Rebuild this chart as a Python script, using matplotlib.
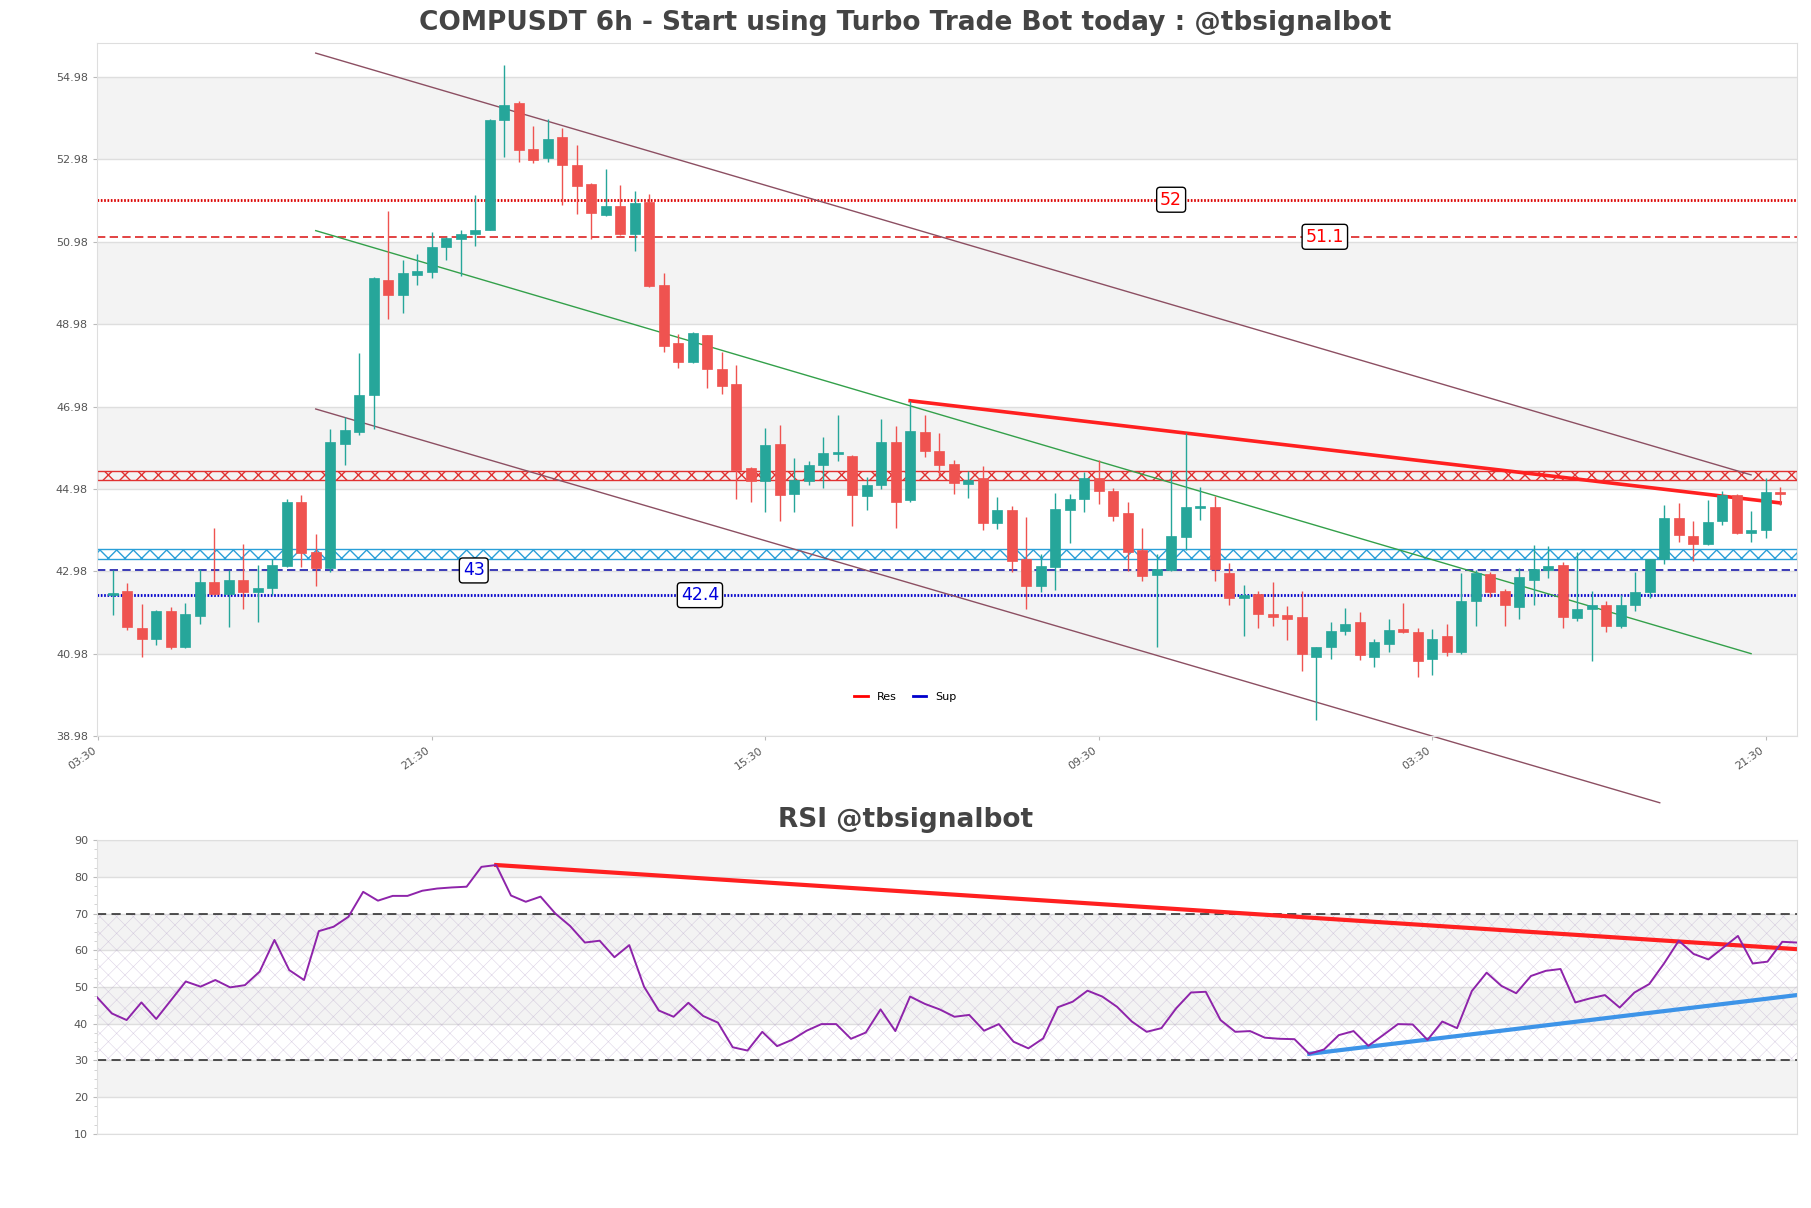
import matplotlib
matplotlib.use("Agg")
import matplotlib.pyplot as plt
from matplotlib.lines import Line2D
from matplotlib.ticker import MultipleLocator

# 6h candles, index 0..115
opens = [42.40, 42.49, 41.61, 41.34, 42.02, 41.14, 41.90, 42.71, 42.42, 42.76,
         42.47, 42.57, 43.12, 44.66, 43.46, 43.06, 46.08, 46.36, 47.26, 50.06,
         49.69, 50.18, 50.25, 50.86, 51.05, 51.16, 51.26, 53.93, 54.34, 53.23,
         53.01, 53.52, 52.85, 52.38, 51.62, 51.86, 51.16, 51.94, 49.92, 48.51,
         48.05, 48.71, 47.88, 47.52, 45.48, 45.17, 46.08, 44.86, 45.17, 45.55,
         45.83, 45.78, 44.80, 45.07, 46.11, 44.70, 46.36, 45.91, 45.58, 45.10,
         45.24, 44.15, 44.46, 43.27, 42.63, 43.08, 44.46, 44.73, 45.24, 44.94,
         44.39, 43.50, 42.90, 43.02, 43.80, 44.52, 44.55, 42.94, 42.34, 42.43,
         41.94, 41.91, 41.87, 40.91, 41.14, 41.54, 41.75, 40.89, 41.22, 41.58,
         41.50, 40.84, 41.40, 41.03, 42.25, 42.92, 42.49, 42.12, 42.78, 43.00,
         43.14, 41.84, 42.07, 42.15, 41.66, 42.15, 42.47, 43.28, 44.27, 43.83,
         43.63, 44.19, 44.83, 43.90, 43.97, 44.91]
highs = [43.01, 42.70, 42.18, 42.04, 42.11, 42.21, 43.03, 44.02, 43.01, 43.64,
         43.13, 43.29, 44.73, 44.82, 43.88, 46.44, 46.72, 48.28, 50.12, 51.72,
         50.53, 50.68, 51.22, 51.10, 51.27, 52.12, 53.96, 55.28, 54.40, 53.80,
         53.95, 53.73, 53.34, 52.40, 52.74, 52.35, 52.21, 52.15, 50.22, 48.75,
         48.78, 48.72, 48.31, 47.98, 45.50, 46.47, 46.54, 45.74, 45.65, 46.25,
         46.77, 45.80, 45.27, 46.67, 46.50, 47.12, 46.77, 46.33, 45.69, 45.42,
         45.53, 44.78, 44.57, 44.29, 43.40, 44.89, 44.85, 45.38, 45.69, 45.00,
         44.67, 44.03, 43.40, 45.44, 46.33, 45.02, 44.80, 43.18, 42.64, 42.49,
         42.71, 42.13, 42.49, 41.15, 41.76, 42.09, 42.00, 41.34, 41.82, 42.21,
         41.61, 41.58, 41.70, 42.94, 43.02, 42.97, 42.54, 43.05, 43.62, 43.59,
         43.20, 43.44, 42.51, 42.25, 42.41, 42.97, 43.29, 44.58, 44.64, 44.20,
         44.71, 44.94, 44.85, 44.45, 45.24, 45.02]
lows = [41.91, 41.55, 40.89, 41.20, 41.10, 41.12, 41.69, 42.40, 41.62, 42.07,
        41.76, 42.40, 43.08, 43.08, 42.63, 42.96, 45.56, 46.29, 46.44, 49.10,
        49.24, 49.92, 50.11, 50.54, 50.16, 50.87, 51.26, 53.04, 52.92, 52.88,
        52.92, 51.87, 51.65, 51.05, 51.60, 51.14, 50.76, 49.88, 48.30, 47.91,
        48.03, 47.44, 47.29, 44.73, 44.66, 44.42, 44.19, 44.42, 45.07, 44.99,
        45.65, 44.07, 44.46, 44.98, 44.04, 44.66, 45.76, 45.27, 44.86, 44.77,
        43.99, 44.01, 42.96, 42.07, 42.47, 42.53, 43.66, 44.42, 44.61, 44.21,
        42.98, 42.75, 41.13, 42.99, 43.50, 44.23, 42.75, 42.17, 41.42, 41.60,
        41.64, 41.32, 40.56, 39.37, 40.86, 41.44, 40.83, 40.65, 41.03, 41.48,
        40.41, 40.45, 40.92, 40.98, 41.66, 42.35, 41.65, 41.82, 42.17, 42.81,
        41.61, 41.77, 40.81, 41.50, 41.60, 42.01, 42.33, 43.16, 43.70, 43.24,
        43.62, 44.11, 43.89, 43.69, 43.79, 44.59]
closes = [42.45, 41.62, 41.34, 42.02, 41.14, 41.94, 42.71, 42.44, 42.76, 42.47,
          42.58, 43.13, 44.66, 43.43, 43.06, 46.11, 46.41, 47.26, 50.09, 49.69,
          50.21, 50.28, 50.86, 51.06, 51.18, 51.26, 53.94, 54.31, 53.21, 52.96,
          53.48, 52.85, 52.34, 51.68, 51.86, 51.16, 51.92, 49.91, 48.46, 48.05,
          48.76, 47.88, 47.48, 45.45, 45.17, 46.05, 44.82, 45.19, 45.57, 45.86,
          45.86, 44.84, 45.07, 46.12, 44.66, 46.39, 45.90, 45.57, 45.12, 45.20,
          44.15, 44.46, 43.23, 42.63, 43.12, 44.49, 44.73, 45.24, 44.93, 44.33,
          43.46, 42.87, 43.04, 43.83, 44.55, 44.55, 43.04, 42.34, 42.41, 41.95,
          41.88, 41.83, 40.98, 41.14, 41.54, 41.70, 40.94, 41.26, 41.56, 41.50,
          40.81, 41.34, 41.03, 42.25, 42.94, 42.47, 42.15, 42.84, 43.04, 43.10,
          41.87, 42.07, 42.15, 41.65, 42.15, 42.47, 43.28, 44.27, 43.85, 43.63,
          44.17, 44.82, 43.90, 43.99, 44.90, 44.86]

rsi = [47.2, 42.8, 41.0, 45.8, 41.3, 46.4, 51.5, 50.1, 51.9, 49.9,
       50.5, 54.2, 62.8, 54.6, 51.9, 65.2, 66.4, 69.1, 75.9, 73.5,
       74.8, 74.8, 76.2, 76.8, 77.1, 77.3, 82.7, 83.2, 74.9, 73.2,
       74.6, 70.0, 66.6, 62.1, 62.6, 58.1, 61.4, 50.1, 43.6, 41.9,
       45.7, 42.1, 40.3, 33.6, 32.7, 37.8, 33.9, 35.6, 38.1, 39.9,
       39.9, 35.9, 37.6, 43.9, 38.0, 47.4, 45.4, 43.9, 41.9, 42.4,
       38.1, 39.9, 35.1, 33.3, 36.0, 44.5, 46.0, 49.0, 47.4, 44.6,
       40.6, 37.8, 38.8, 44.2, 48.5, 48.7, 41.0, 37.8, 38.0, 36.2,
       35.9, 35.8, 31.8, 33.0, 36.9, 38.0, 34.0, 36.9, 39.9, 39.8,
       35.6, 40.6, 38.8, 48.9, 53.9, 50.3, 48.3, 53.0, 54.4, 54.9,
       45.8, 46.9, 47.8, 44.4, 48.5, 50.8, 56.4, 62.6, 59.0, 57.5,
       60.7, 63.9, 56.4, 56.9, 62.3, 62.1]

tick_pos = [-1, 22, 45, 68, 91, 114]
tick_labels = ["03:30", "21:30", "15:30", "09:30", "03:30", "21:30"]

res_levels = [52.0, 51.1]
sup_levels = [43.0, 42.4]
res_zone = (45.20, 45.42)
sup_zone = (43.27, 43.51)

# trend lines: (x0, y0, x1, y1)
res_trend = (55, 47.12, 115, 44.64)
chan_upper = (14, 55.56, 113, 45.32)
chan_lower = (14, 46.92, 106.7, 37.36)
chan_mid = (14, 51.25, 113, 40.98)
rsi_res = (27, 83.2, 115, 60.3)
rsi_sup = (82, 31.8, 115, 47.8)

UP = "#26a69a"
DOWN = "#ef5350"
BAND = "#f3f3f3"
GRID = "#dedede"
TXT = "#555555"

fig = plt.figure(figsize=(18.11, 12.08), dpi=100)
ax = fig.add_axes([0.0536, 0.3907, 0.9387, 0.5737])
rax = fig.add_axes([0.0536, 0.0613, 0.9387, 0.2433])

# ---- price panel ----
yt = [38.98 + 2 * i for i in range(9)]
for i in range(1, 9, 2):
    ax.axhspan(yt[i], yt[i + 1], color=BAND, zorder=0, lw=0)
ax.set_yticks(yt)
ax.set_yticklabels(["%.2f" % v for v in yt])
ax.grid(axis="y", color=GRID, lw=1, zorder=0.5)
ax.set_axisbelow(True)

ax.axhspan(*res_zone, fill=False, hatch="xx", edgecolor="#e03030", lw=1, zorder=1)
ax.axhspan(*sup_zone, fill=False, hatch="xx", edgecolor="#2a9fd8", lw=1, zorder=1)

ax.axhline(res_levels[0], color="#dd0000", ls=":", lw=2, dashes=(0.6, 0.6), zorder=1.5)
ax.axhline(res_levels[1], color="#dd2222", ls="--", lw=1.2, dashes=(5, 2.6), zorder=1.5)
ax.axhline(sup_levels[0], color="#1a1aaa", ls="--", lw=1.2, dashes=(5, 2.6), zorder=1.5)
ax.axhline(sup_levels[1], color="#0000cc", ls=":", lw=2, dashes=(0.6, 0.6), zorder=1.5)

box = dict(boxstyle="round,pad=0.2", fc="white", ec="black", lw=1)
ax.text(73, res_levels[0], "52", color="red", fontsize=12.5, ha="center", va="center", bbox=box, zorder=5)
ax.text(83.6, res_levels[1], "51.1", color="red", fontsize=12.5, ha="center", va="center", bbox=box, zorder=5)
ax.text(24.9, sup_levels[0], "43", color="#0000dd", fontsize=12.5, ha="center", va="center", bbox=box, zorder=5)
ax.text(40.5, sup_levels[1], "42.4", color="#0000dd", fontsize=12.5, ha="center", va="center", bbox=box, zorder=5)

for ln, col, lw, clip in [(chan_upper, "#8c4f62", 1, True), (chan_lower, "#8c4f62", 1, False),
                          (chan_mid, "#33a04a", 1, True), (res_trend, "#ff2020", 2.6, True)]:
    ax.plot([ln[0], ln[2]], [ln[1], ln[3]], color=col, lw=lw, zorder=2, clip_on=clip)

n = len(opens)
for i in range(n):
    o, h, l, c = opens[i], highs[i], lows[i], closes[i]
    col = UP if c >= o else DOWN
    ax.vlines(i, l, h, color=col, lw=1, zorder=3)
    bot = min(o, c)
    hgt = max(abs(c - o), 0.05)
    ax.bar(i, hgt, bottom=bot, width=0.7, color=col, edgecolor=col, lw=0.5, zorder=4)

ax.set_xlim(-1.08, 116.17)
ax.set_ylim(38.98, 55.805)
ax.set_xticks(tick_pos)
ax.set_xticklabels(tick_labels, rotation=35, ha="right")
ax.tick_params(labelsize=8, labelcolor=TXT, color="#bbbbbb", length=3)
for s in ax.spines.values():
    s.set_color(GRID)

# ---- RSI panel ----
for lo in (20, 40, 60, 80):
    rax.axhspan(lo, lo + 10, color=BAND, zorder=0, lw=0)
with plt.rc_context({"hatch.linewidth": 0.4}):
    rax.axhspan(30, 70, facecolor="none", edgecolor=(0.7, 0.62, 0.78, 0.45), hatch="xx", lw=0, zorder=0.6)
rax.set_yticks(range(10, 91, 10))
rax.yaxis.set_minor_locator(MultipleLocator(2.5))
rax.grid(axis="y", which="major", color=GRID, lw=1, zorder=0.5)
rax.set_axisbelow(True)
rax.axhline(70, color="#222222", ls="--", lw=1.1, dashes=(6, 3.5), zorder=1)
rax.axhline(30, color="#222222", ls="--", lw=1.1, dashes=(6, 3.5), zorder=1)
rax.plot(range(len(rsi)), rsi, color="#8e24aa", lw=1.4, zorder=3)
rax.plot([rsi_res[0], rsi_res[2]], [rsi_res[1], rsi_res[3]], color="#ff2020", lw=3, zorder=2.5)
rax.plot([rsi_sup[0], rsi_sup[2]], [rsi_sup[1], rsi_sup[3]], color="#3d94e8", lw=3, zorder=2.5)
rax.set_xlim(0, len(rsi) - 1)
rax.set_ylim(10, 90)
rax.set_xticks([])
rax.tick_params(labelsize=8, labelcolor=TXT, color="#bbbbbb", length=3)
rax.tick_params(which="minor", length=2, color="#cccccc")
for s in rax.spines.values():
    s.set_color(GRID)

fig.text(0.5, 1 - 23 / 1208, "COMPUSDT 6h - Start using Turbo Trade Bot today : @tbsignalbot",
         ha="center", va="center", fontsize=19, fontweight="bold", color="#444444")
fig.text(0.5, 1 - 820 / 1208, "RSI @tbsignalbot", ha="center", va="center",
         fontsize=19, fontweight="bold", color="#444444")

handles = [Line2D([], [], color="red", lw=2), Line2D([], [], color="#0000cc", lw=2)]
fig.legend(handles, ["Res", "Sup"], loc="center", bbox_to_anchor=(0.5, 1 - 697 / 1208),
           ncol=2, frameon=False, fontsize=8, handlelength=1.2, columnspacing=1.5)

fig.savefig("out.png", dpi=100)
